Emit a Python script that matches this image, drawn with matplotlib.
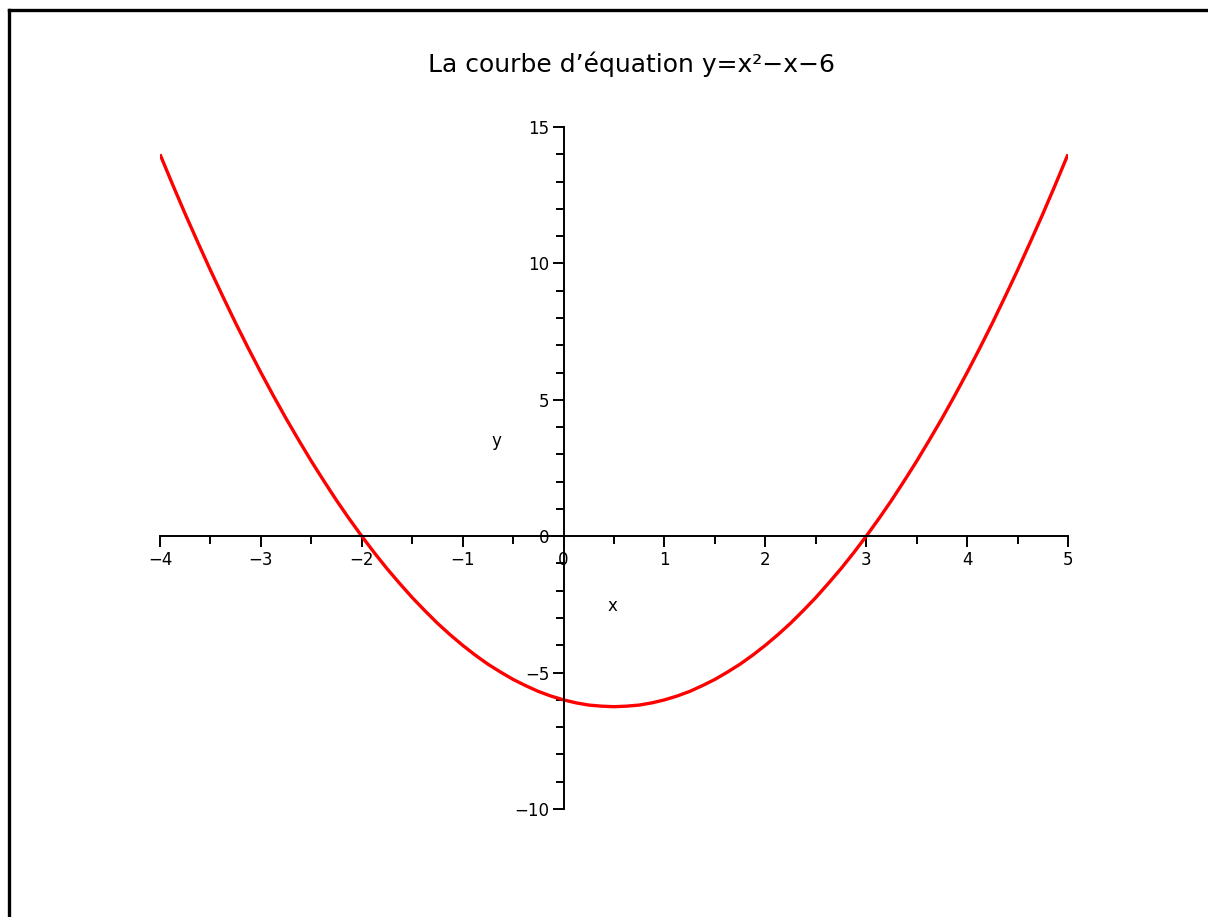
import matplotlib
matplotlib.use("Agg")
import matplotlib.pyplot as plt
from matplotlib.ticker import MultipleLocator
from matplotlib.lines import Line2D

# Data (points on the red curve)
x_vals = [-4.0, -3.875, -3.75, -3.625, -3.5, -3.375, -3.25, -3.125, -3.0, -2.875, -2.75, -2.625,
          -2.5, -2.375, -2.25, -2.125, -2.0, -1.875, -1.75, -1.625, -1.5, -1.375, -1.25, -1.125,
          -1.0, -0.875, -0.75, -0.625, -0.5, -0.375, -0.25, -0.125, 0.0, 0.125, 0.25, 0.375,
          0.5, 0.625, 0.75, 0.875, 1.0, 1.125, 1.25, 1.375, 1.5, 1.625, 1.75, 1.875,
          2.0, 2.125, 2.25, 2.375, 2.5, 2.625, 2.75, 2.875, 3.0, 3.125, 3.25, 3.375,
          3.5, 3.625, 3.75, 3.875, 4.0, 4.125, 4.25, 4.375, 4.5, 4.625, 4.75, 4.875, 5.0]
y_vals = [14.0, 12.89, 11.81, 10.77, 9.75, 8.77, 7.81, 6.89, 6.0, 5.14, 4.31, 3.52,
          2.75, 2.02, 1.31, 0.64, 0.0, -0.61, -1.19, -1.73, -2.25, -2.73, -3.19, -3.61,
          -4.0, -4.36, -4.69, -4.98, -5.25, -5.48, -5.69, -5.86, -6.0, -6.11, -6.19, -6.23,
          -6.25, -6.23, -6.19, -6.11, -6.0, -5.86, -5.69, -5.48, -5.25, -4.98, -4.69, -4.36,
          -4.0, -3.61, -3.19, -2.73, -2.25, -1.73, -1.19, -0.61, 0.0, 0.64, 1.31, 2.02,
          2.75, 3.52, 4.31, 5.14, 6.0, 6.89, 7.81, 8.77, 9.75, 10.77, 11.81, 12.89, 14.0]
x_ticks = [-4, -3, -2, -1, 0, 1, 2, 3, 4, 5]
y_ticks = [-10, -5, 0, 5, 10, 15]
title = "La courbe d\u2019\u00e9quation y=x\u00b2\u2212x\u22126"

plt.rcParams['font.family'] = ['DejaVu Sans']

W, H = 1208, 917
fig = plt.figure(figsize=(W / 100, H / 100), dpi=100)
fig.patch.set_facecolor("white")

ax = fig.add_axes([160 / W, (H - 809) / H, 908 / W, 682 / H])
ax.plot(x_vals, y_vals, color="#ff0000", lw=2.4, solid_capstyle="butt")
ax.set_xlim(-4, 5)
ax.set_ylim(-10, 15)

for s in ["top", "right"]:
    ax.spines[s].set_visible(False)
ax.spines["left"].set_position(("data", 0))
ax.spines["bottom"].set_position(("data", 0))
ax.spines["left"].set_linewidth(1.4)
ax.spines["bottom"].set_linewidth(1.4)

ax.set_xticks(x_ticks)
ax.set_yticks(y_ticks)
ax.set_xticklabels([("\u2212%d" % -v) if v < 0 else str(v) for v in x_ticks])
ax.set_yticklabels([("\u2212%d" % -v) if v < 0 else str(v) for v in y_ticks])
ax.xaxis.set_minor_locator(MultipleLocator(0.5))
ax.yaxis.set_minor_locator(MultipleLocator(1))
ax.tick_params(axis="x", which="major", direction="out", length=8, width=1.4, pad=3, labelsize=12)
ax.tick_params(axis="x", which="minor", direction="out", length=5.5, width=1.4)
ax.tick_params(axis="y", which="major", direction="out", length=8, width=1.4, pad=2, labelsize=12)
ax.tick_params(axis="y", which="minor", direction="out", length=5.5, width=1.4)

# axis names
fig.text(612 / W, 1 - 606 / H, "x", ha="center", va="center", fontsize=12)
fig.text(496 / W, 1 - 441 / H, "y", ha="center", va="center", fontsize=12)

# title
fig.text(632 / W, 1 - 64 / H, title, ha="center", va="center", fontsize=18)

# partial frame (top and left)
fig.add_artist(Line2D([9 / W, 1.0], [1 - 10 / H, 1 - 10 / H], transform=fig.transFigure,
                      color="black", lw=2.4, solid_capstyle="projecting"))
fig.add_artist(Line2D([9 / W, 9 / W], [1 - 10 / H, 0.0], transform=fig.transFigure,
                      color="black", lw=2.4, solid_capstyle="projecting"))

fig.savefig("out.png", dpi=100, facecolor="white")
